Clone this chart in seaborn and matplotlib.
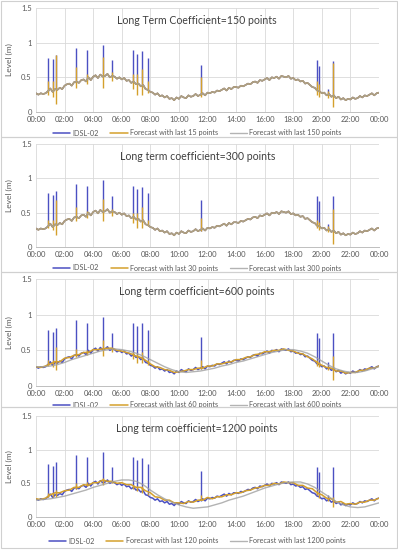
import numpy as np
import pandas as pd
import matplotlib
matplotlib.use("Agg")
import matplotlib.pyplot as plt
from matplotlib.patches import Rectangle
import seaborn as sns

# Observed level IDSL-02, every 10 minutes from 00:00 to 24:00
level_obs = [
    0.27, 0.25, 0.27, 0.26, 0.27, 0.30, 0.34, 0.29, 0.33, 0.32, 0.35, 0.33,
    0.38, 0.40, 0.41, 0.38, 0.43, 0.44, 0.42, 0.46, 0.47, 0.44, 0.50, 0.46,
    0.51, 0.53, 0.49, 0.54, 0.51, 0.52, 0.55, 0.50, 0.52, 0.51, 0.48, 0.50,
    0.47, 0.49, 0.45, 0.46, 0.42, 0.44, 0.40, 0.41, 0.37, 0.39, 0.33, 0.32,
    0.29, 0.28, 0.25, 0.27, 0.23, 0.24, 0.21, 0.23, 0.19, 0.20, 0.17, 0.21,
    0.19, 0.23, 0.21, 0.20, 0.24, 0.22, 0.23, 0.26, 0.23, 0.25, 0.27, 0.24,
    0.28, 0.27, 0.29, 0.28, 0.31, 0.30, 0.32, 0.34, 0.31, 0.35, 0.33, 0.36,
    0.36, 0.35, 0.38, 0.37, 0.39, 0.41, 0.40, 0.43, 0.44, 0.42, 0.46, 0.45,
    0.47, 0.49, 0.46, 0.50, 0.49, 0.51, 0.48, 0.52, 0.51, 0.50, 0.52, 0.48,
    0.49, 0.46, 0.47, 0.44, 0.45, 0.41, 0.42, 0.39, 0.36, 0.35, 0.31, 0.30,
    0.27, 0.28, 0.24, 0.26, 0.22, 0.24, 0.20, 0.22, 0.18, 0.20, 0.17, 0.19,
    0.18, 0.21, 0.19, 0.20, 0.23, 0.21, 0.24, 0.23, 0.25, 0.27, 0.24, 0.27,
    0.28,
]

# short-window forecast, 60 points (every 20 minutes)
fc_short_60 = [
    0.27, 0.26, 0.28, 0.31, 0.34, 0.34, 0.39, 0.40, 0.43, 0.44, 0.47, 0.47,
    0.51, 0.51, 0.52, 0.53, 0.53, 0.50, 0.49, 0.47, 0.45, 0.42, 0.40, 0.36,
    0.31, 0.27, 0.26, 0.23, 0.22, 0.19, 0.20, 0.21, 0.23, 0.23, 0.25, 0.25,
    0.28, 0.28, 0.31, 0.31, 0.33, 0.34, 0.37, 0.37, 0.40, 0.41, 0.44, 0.45,
    0.48, 0.48, 0.50, 0.50, 0.52, 0.50, 0.49, 0.46, 0.45, 0.41, 0.38, 0.33,
    0.29, 0.26, 0.25, 0.21, 0.21, 0.18, 0.19, 0.19, 0.22, 0.22, 0.25, 0.25,
    0.28,
]

# short-window forecast, 120 points (every 20 minutes)
fc_short_120 = [
    0.27, 0.26, 0.28, 0.33, 0.36, 0.36, 0.39, 0.40, 0.44, 0.44, 0.48, 0.47,
    0.51, 0.51, 0.55, 0.53, 0.53, 0.50, 0.51, 0.48, 0.48, 0.44, 0.44, 0.39,
    0.36, 0.30, 0.29, 0.25, 0.25, 0.21, 0.21, 0.20, 0.23, 0.22, 0.25, 0.25,
    0.29, 0.27, 0.30, 0.30, 0.33, 0.33, 0.36, 0.36, 0.39, 0.40, 0.43, 0.44,
    0.47, 0.47, 0.50, 0.49, 0.52, 0.51, 0.51, 0.47, 0.47, 0.43, 0.42, 0.36,
    0.33, 0.28, 0.27, 0.22, 0.23, 0.19, 0.20, 0.19, 0.22, 0.22, 0.25, 0.25,
    0.28,
]

# long-window forecasts (every 30 minutes)
fc_long_600 = [
    0.27, 0.27, 0.28, 0.30, 0.33, 0.37, 0.40, 0.43, 0.46, 0.49, 0.51, 0.52,
    0.51, 0.49, 0.46, 0.42, 0.37, 0.32, 0.27, 0.23, 0.20, 0.19, 0.20, 0.21,
    0.23, 0.25, 0.28, 0.30, 0.33, 0.35, 0.38, 0.41, 0.44, 0.47, 0.49, 0.51,
    0.51, 0.49, 0.46, 0.41, 0.35, 0.29, 0.24, 0.21, 0.19, 0.19, 0.21, 0.24,
    0.27,
]
fc_long_1200 = [
    0.25, 0.26, 0.27, 0.29, 0.31, 0.34, 0.37, 0.40, 0.44, 0.47, 0.50, 0.53,
    0.55, 0.55, 0.53, 0.48, 0.40, 0.33, 0.27, 0.22, 0.18, 0.15, 0.13, 0.14,
    0.15, 0.18, 0.21, 0.25, 0.28, 0.31, 0.35, 0.39, 0.43, 0.46, 0.49, 0.51,
    0.52, 0.52, 0.49, 0.44, 0.37, 0.30, 0.23, 0.18, 0.15, 0.14, 0.15, 0.18,
    0.21,
]

# spikes in the record
spike_times = ["00:49", "01:10", "01:23", "02:50", "03:35", "04:40", "05:17", "06:46",
               "07:05", "07:23", "07:49", "11:32", "19:39", "19:49", "20:26", "20:47"]
spike_low = [0.30, 0.30, 0.32, 0.42, 0.46, 0.52, 0.52, 0.43,
             0.40, 0.38, 0.32, 0.24, 0.33, 0.29, 0.25, 0.22]
spike_high = [0.78, 0.76, 0.82, 0.92, 0.89, 0.97, 0.75, 0.89,
              0.84, 0.88, 0.78, 0.68, 0.75, 0.67, 0.33, 0.74]

# how the short-window forecasts react to the spikes
fc_spike_low = {
    15: [0.25, 0.22, 0.12, 0.35, 0.40, 0.35, 0.45, 0.33, 0.25, 0.25, 0.28, 0.22, 0.25, 0.22, 0.20, 0.07],
    30: [0.27, 0.25, 0.17, 0.38, 0.42, 0.38, 0.45, 0.35, 0.28, 0.28, 0.30, 0.24, 0.27, 0.25, 0.22, 0.05],
    60: [0.28, 0.27, 0.22, 0.40, 0.44, 0.42, 0.47, 0.38, 0.32, 0.32, 0.30, 0.24, 0.28, 0.26, 0.22, 0.08],
    120: [0.30, 0.30, 0.30, 0.42, 0.46, 0.48, 0.50, 0.42, 0.38, 0.36, 0.32, 0.25, 0.32, 0.28, 0.24, 0.15],
}
fc_spike_high = {
    15: [0.45, 0.45, 0.82, 0.65, 0.55, 0.80, 0.58, 0.55, 0.55, 0.62, 0.45, 0.50, 0.45, 0.40, 0.30, 0.70],
    30: [0.40, 0.40, 0.68, 0.58, 0.52, 0.70, 0.55, 0.50, 0.50, 0.58, 0.40, 0.42, 0.40, 0.36, 0.30, 0.55],
    60: [0.36, 0.36, 0.55, 0.52, 0.50, 0.65, 0.53, 0.48, 0.45, 0.48, 0.36, 0.36, 0.36, 0.33, 0.28, 0.42],
    120: [0.36, 0.36, 0.40, 0.50, 0.52, 0.58, 0.54, 0.48, 0.46, 0.46, 0.36, 0.32, 0.38, 0.34, 0.28, 0.30],
}

panel_titles = ["Long Term Coefficient=150 points", "Long term coefficient=300 points",
                "Long term coefficient=600 points", "Long term coefficient=1200 points"]
short_windows = [15, 30, 60, 120]
long_windows = [150, 300, 600, 1200]
x_ticks = list(range(0, 25, 2))
x_ticklabels = ["%02d:00" % (h % 24) for h in x_ticks]
y_ticks = [0, 0.5, 1, 1.5]
y_ticklabels = ["0", "0.5", "1", "1.5"]

BLUE = "#4b50c2"
ORANGE = "#d4a02c"
GRAY = "#a0a0a0"


def hours_of(values):
    return np.linspace(0, 24, len(values))


def to_hours(t):
    h, m = t.split(":")
    return int(h) + int(m) / 60


spike_h = [to_hours(t) for t in spike_times]
obs = pd.DataFrame({"hour": hours_of(level_obs), "level": level_obs})
short_series = {15: obs, 30: obs,
                60: pd.DataFrame({"hour": hours_of(fc_short_60), "level": fc_short_60}),
                120: pd.DataFrame({"hour": hours_of(fc_short_120), "level": fc_short_120})}
long_series = {150: obs, 300: obs,
               600: pd.DataFrame({"hour": hours_of(fc_long_600), "level": fc_long_600}),
               1200: pd.DataFrame({"hour": hours_of(fc_long_1200), "level": fc_long_1200})}

sns.set_style("white")
plt.rcParams["font.family"] = ["Lato", "DejaVu Sans"]

W, H = 398, 550
fig = plt.figure(figsize=(W / 100, H / 100), dpi=100)

# panel frames (top, bottom) and plot areas (top, bottom) in pixels
frames = [(1, 137), (137, 272), (272, 407), (407, 548)]
areas = [(8, 112), (144, 247), (279, 386), (416, 517)]
legend_gap = [21, 21, 19, 24]

for i in range(4):
    ft, fb = frames[i]
    fig.patches.append(Rectangle((1 / W, 1 - fb / H), (W - 2) / W, (fb - ft) / H,
                                 transform=fig.transFigure, fill=False,
                                 edgecolor="#d0d0d0", linewidth=0.8))
    top, bot = areas[i]
    ax = fig.add_axes([36 / W, 1 - bot / H, (379 - 36) / W, (bot - top) / H])
    sw, lw_ = short_windows[i], long_windows[i]

    sns.lineplot(data=obs, x="hour", y="level", ax=ax, color=BLUE, lw=1.1,
                 label="IDSL-02", zorder=3)
    ax.vlines(spike_h, spike_low, spike_high, color=BLUE, lw=1.0, zorder=3)
    sns.lineplot(data=short_series[sw], x="hour", y="level", ax=ax, color=ORANGE, lw=1.1,
                 label="Forecast with last %d points" % sw, zorder=4)
    ax.vlines(spike_h, fc_spike_low[sw], fc_spike_high[sw], color=ORANGE, lw=1.0, zorder=4)
    sns.lineplot(data=long_series[lw_], x="hour", y="level", ax=ax, color=GRAY, lw=1.0,
                 label="Forecast with last %d points" % lw_, zorder=5, alpha=0.8)

    ax.set_xlim(0, 24)
    ax.set_ylim(0, 1.5)
    ax.set_xticks(x_ticks)
    ax.set_xticklabels(x_ticklabels)
    ax.set_yticks(y_ticks)
    ax.set_yticklabels(y_ticklabels)
    ax.tick_params(labelsize=5.5, colors="#595959", length=0, pad=3)
    ax.grid(True, color="#d9d9d9", lw=0.6)
    for s in ["top", "right", "left"]:
        ax.spines[s].set_visible(False)
    ax.spines["bottom"].set_color("#bfbfbf")
    ax.spines["bottom"].set_linewidth(0.7)
    ax.set_xlabel("")
    ax.set_ylabel("Level (m)", fontsize=6, color="#595959", labelpad=6)
    ax.text(0.47, 0.88, panel_titles[i], transform=ax.transAxes, ha="center", va="center",
            fontsize=7.6, color="#404040")
    ax.legend(loc="center", bbox_to_anchor=(0.47, -legend_gap[i] / (bot - top)), ncol=3,
              frameon=False, fontsize=5.2, handlelength=2.4, columnspacing=1.6,
              handletextpad=0.3, labelcolor="#595959")

fig.savefig("out.png", dpi=100)
